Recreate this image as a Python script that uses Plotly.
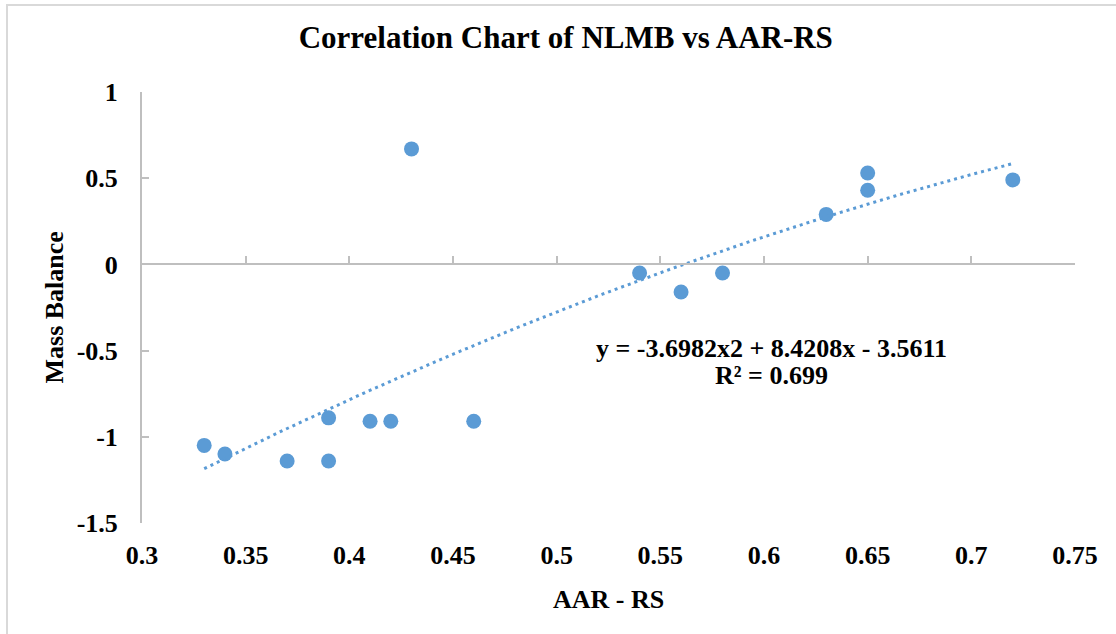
import numpy as np
import plotly.graph_objects as go

# ---- data ----
aar_rs = [0.33, 0.34, 0.37, 0.39, 0.39, 0.41, 0.42, 0.43, 0.46, 0.54, 0.56, 0.58, 0.63, 0.65, 0.65, 0.72]
mass_balance = [-1.05, -1.10, -1.14, -0.89, -1.14, -0.91, -0.91, 0.67, -0.91, -0.05, -0.16, -0.05, 0.29, 0.53, 0.43, 0.49]

# polynomial trendline coefficients shown on the chart (x^2, x, 1)
trend_coeffs = [-3.6982, 8.4208, -3.5611]
r_squared = 0.699

x_tickvals = [0.3, 0.35, 0.4, 0.45, 0.5, 0.55, 0.6, 0.65, 0.7, 0.75]
x_ticktext = ["0.3", "0.35", "0.4", "0.45", "0.5", "0.55", "0.6", "0.65", "0.7", "0.75"]
y_tickvals = [1, 0.5, 0, -0.5, -1, -1.5]
y_ticktext = ["1", "0.5", "0", "-0.5", "-1", "-1.5"]

title_text = "Correlation Chart of NLMB vs AAR-RS"
x_title = "AAR - RS"
y_title = "Mass Balance"

# ---- styling ----
FONT = "Liberation Serif"
BLUE = "#5b9bd5"
AXIS = "#bfbfbf"

trend_x = np.linspace(min(aar_rs), max(aar_rs), 200)
trend_y = np.polyval(trend_coeffs, trend_x)

fig = go.Figure()

fig.add_trace(go.Scatter(
    x=trend_x, y=trend_y, mode="lines", xaxis="x2", yaxis="y",
    line=dict(color=BLUE, width=3, dash="3px,4px"),
    hoverinfo="skip", showlegend=False,
))
fig.add_trace(go.Scatter(
    x=aar_rs, y=mass_balance, mode="markers",
    marker=dict(color=BLUE, size=15, line=dict(width=0)),
    showlegend=False, cliponaxis=False,
))

eq_text = "y = {:.4f}x2 + {:.4f}x - {:.4f}".format(trend_coeffs[0], trend_coeffs[1], abs(trend_coeffs[2]))
r2_text = "R\u00b2 = {}".format(r_squared)

tick_font = dict(family=FONT, size=26, color="black", weight="bold")

fig.update_layout(
    width=1116, height=634,
    margin=dict(l=142, r=41, t=92, b=111),
    paper_bgcolor="white", plot_bgcolor="white",
    title=dict(text="<b>" + title_text + "</b>", x=0.507, xanchor="center",
               y=1 - 37 / 634, yanchor="middle", yref="container",
               font=dict(family=FONT, size=31, color="black")),
    xaxis=dict(range=[0.3, 0.75], tickvals=x_tickvals, ticktext=x_ticktext,
               showline=False, ticks="", showgrid=False, zeroline=False,
               tickfont=tick_font, ticklabelstandoff=14),
    xaxis2=dict(range=[0.3, 0.75], overlaying="x", anchor="free", position=0.6,
                tickvals=x_tickvals, showticklabels=False,
                showline=True, linecolor=AXIS, linewidth=2,
                ticks="inside", ticklen=7, tickwidth=2, tickcolor=AXIS,
                showgrid=False, zeroline=False),
    yaxis=dict(range=[-1.5, 1], tickvals=y_tickvals, ticktext=y_ticktext,
               showline=True, linecolor=AXIS, linewidth=2,
               ticks="inside", ticklen=7, tickwidth=2, tickcolor=AXIS,
               showgrid=False, zeroline=False,
               tickfont=tick_font, ticklabelstandoff=17),
    annotations=[
        dict(text="<b>" + y_title + "</b>", xref="paper", yref="paper",
             x=(54 - 142) / 933, y=0.5, xanchor="center", yanchor="middle",
             textangle=-90, showarrow=False,
             font=dict(family=FONT, size=26, color="black")),
        dict(text="<b>" + x_title + "</b>", xref="paper", yref="paper",
             x=0.5, y=(523 - 599) / 431, xanchor="center", yanchor="middle",
             showarrow=False, font=dict(family=FONT, size=26, color="black")),
        dict(text="<b>" + eq_text + "</b>", xref="x", yref="y",
             x=0.6034, y=-0.49, xanchor="center", yanchor="middle",
             showarrow=False, font=dict(family=FONT, size=26, color="black")),
        dict(text="<b>" + r2_text + "</b>", xref="x", yref="y",
             x=0.6034, y=-0.645, xanchor="center", yanchor="middle",
             showarrow=False, font=dict(family=FONT, size=26, color="black")),
    ],
    shapes=[
        dict(type="rect", xref="paper", yref="paper",
             x0=(7 - 142) / 933, x1=1.2, y0=-0.5, y1=(523 - 5) / 431,
             line=dict(color="#d9d9d9", width=2), layer="below"),
    ],
)

fig.write_html("out.html")
